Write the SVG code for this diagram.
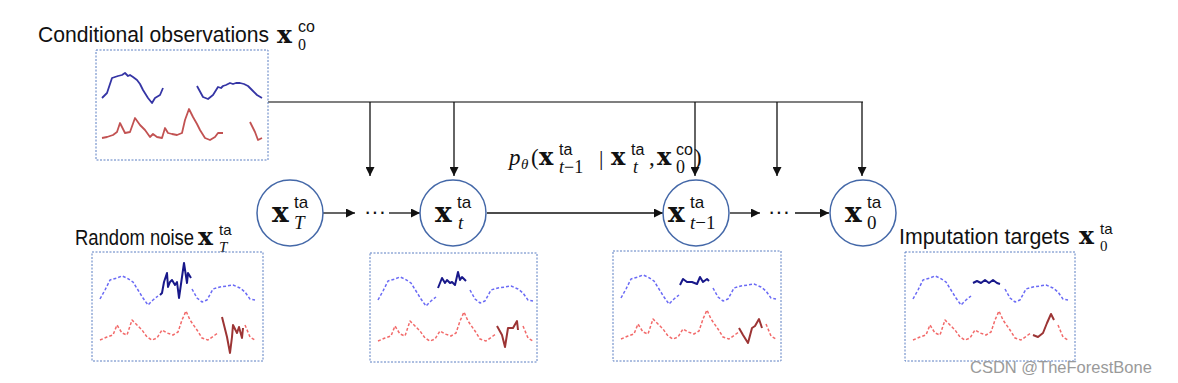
<svg xmlns="http://www.w3.org/2000/svg" xmlns:xlink="http://www.w3.org/1999/xlink" width="1178" height="383" viewBox="0 0 1178 383">
<style>
.lbl{font-family:"Liberation Sans",Arial,sans-serif;font-size:22px;fill:#111}
.mx{font-family:"DejaVu Serif","Liberation Serif",serif;font-weight:bold;fill:#111}
.ms{font-family:"Liberation Serif","Times New Roman",serif;fill:#111}
.ss{font-family:"Liberation Sans",Arial,sans-serif;fill:#111}
.it{font-style:italic}
.box{fill:#fff;stroke:#5b7ec2;stroke-width:1;stroke-dasharray:2,1.5}
.node{fill:#fff;stroke:#4468a8;stroke-width:1.5}
.conn{fill:none;stroke:#111;stroke-width:1.3}
.bus{fill:none;stroke:#555;stroke-width:1.3}
.sb{fill:none;stroke:#3535a5;stroke-width:1.8;stroke-linejoin:round}
.sr{fill:none;stroke:#c25252;stroke-width:1.8;stroke-linejoin:round}
.db{fill:none;stroke:#6b6bf5;stroke-width:1.5;stroke-dasharray:3,2;stroke-linejoin:round}
.dr{fill:none;stroke:#f26a6a;stroke-width:1.5;stroke-dasharray:3,2;stroke-linejoin:round}
.nb{fill:none;stroke:#18188a;stroke-width:2;stroke-linejoin:round}
.nr{fill:none;stroke:#9c3434;stroke-width:2;stroke-linejoin:round}
.wm{font-family:"Liberation Sans",Arial,sans-serif;font-size:16.5px;fill:#9a9a9a}
</style>
<defs>
<marker id="ah" viewBox="0 0 10 10" refX="10" refY="5" markerWidth="9" markerHeight="9" markerUnits="userSpaceOnUse" orient="auto">
<path d="M0,0 L10,5 L0,10 z" fill="#111"/>
</marker>
<path id="blueL" class="db" d="M8,47 L13,38 L18,28 L25,26 L30,24 L35,26 L41,30 L46,38 L51,46 L56,53 L61,48 L66,44"/>
<path id="blueR" class="db" d="M100,37 L105,46 L110,50 L115,48 L121,37 L128,35 L135,34 L141,33 L148,36 L153,40 L158,47 L163,48"/>
<path id="redL" class="dr" d="M8,88 L15,85 L21,83 L25,73 L30,81 L35,83 L40,68 L45,73 L50,78 L55,85 L60,88 L65,86 L70,78 L75,81 L81,83 L86,80 L90,68 L94,59 L98,68 L105,78 L110,86 L116,88 L123,83 L126,81"/>
<path id="redR" class="dr" d="M153,73 L158,85 L163,88"/>
</defs>

<g id="connectors">
<path class="bus" d="M268,102 H863"/>
<path class="conn" d="M370,102 V176" marker-end="url(#ah)"/>
<path class="conn" d="M454,102 V176" marker-end="url(#ah)"/>
<path class="conn" d="M695,102 V176" marker-end="url(#ah)"/>
<path class="conn" d="M777,102 V176" marker-end="url(#ah)"/>
<path class="conn" d="M862,102 V176" marker-end="url(#ah)"/>
<path class="conn" d="M323,213 H355" marker-end="url(#ah)"/>
<text class="lbl" x="375" y="219" text-anchor="middle">···</text>
<path class="conn" d="M389,213 H420" marker-end="url(#ah)"/>
<path class="conn" d="M487,213 H663" marker-end="url(#ah)"/>
<path class="conn" d="M730,213 H760" marker-end="url(#ah)"/>
<text class="lbl" x="779" y="219" text-anchor="middle">···</text>
<path class="conn" d="M795,213 H829" marker-end="url(#ah)"/>
<g id="label-p">
<text class="ms it" font-size="23" x="509" y="165">p</text>
<text class="ms it" font-size="15" x="521" y="169">θ</text>
<text class="ms" font-size="23" x="531" y="165">(</text>
<text class="mx" font-size="24" x="539" y="165">x</text>
<text class="ss" font-size="16" x="559" y="155">ta</text>
<text class="ms" font-size="18" x="559" y="173"><tspan class="it">t</tspan>−1</text>
<text class="ms" font-size="22" x="599" y="165">|</text>
<text class="mx" font-size="24" x="611" y="165">x</text>
<text class="ss" font-size="16" x="631" y="155">ta</text>
<text class="ms it" font-size="18" x="633" y="173">t</text>
<text class="ms" font-size="23" x="649" y="165">,</text>
<text class="mx" font-size="24" x="657" y="165">x</text>
<text class="ss" font-size="16" x="676" y="155">co</text>
<text class="ms" font-size="18" x="676" y="173">0</text>
<text class="ms" font-size="23" x="694" y="165">)</text>
</g>
</g>

<g id="cond-obs">
<text class="lbl" transform="translate(38,42) scale(0.96,1)" font-size="21.5">Conditional observations</text>
<text class="mx" font-size="25" x="277" y="43">x</text>
<text class="ss" font-size="16" x="298" y="32">co</text>
<text class="ms" font-size="16" x="298" y="50">0</text>
<rect class="box" x="96" y="50" width="172" height="110"/>
<path class="sb" d="M102,98 L107,93 L112,78 L115,77 L118,76 L122,75 L125,73 L128,76 L130,75 L133,77 L137,80 L140,84 L143,90 L148,98 L152,103 L155,98 L160,95 L163,88"/>
<path class="sb" d="M197,86 L203,97 L208,99 L213,95 L218,87 L221,88 L223,86 L226,85 L230,83 L233,84 L236,83 L240,83 L244,84 L248,86 L252,90 L257,95 L262,98"/>
<path class="sr" d="M102,138 L107,137 L113,135 L117,132 L120,123 L125,133 L130,132 L135,118 L140,125 L145,130 L150,137 L153,134 L157,137 L162,138 L165,128 L168,133 L172,134 L177,135 L182,133 L185,120 L189,109 L193,117 L197,124 L200,130 L205,138 L210,140 L215,137 L218,133 L223,133"/>
<path class="sr" d="M250,122 L255,132 L258,140 L262,138"/>
</g>

<g id="node-xT">
<circle class="node" cx="290" cy="213" r="33"/>
<text class="mx" font-size="28" x="272" y="222">x</text>
<text class="ss" font-size="17" x="294" y="208">ta</text>
<text class="ms it" font-size="19" x="294" y="229">T</text>
</g>
<g id="node-xt">
<circle class="node" cx="453" cy="213" r="33"/>
<text class="mx" font-size="28" x="435" y="222">x</text>
<text class="ss" font-size="17" x="457" y="208">ta</text>
<text class="ms it" font-size="19" x="458" y="229">t</text>
</g>
<g id="node-xt1">
<circle class="node" cx="696" cy="213" r="33"/>
<text class="mx" font-size="28" x="668" y="222">x</text>
<text class="ss" font-size="17" x="690" y="208">ta</text>
<text class="ms" font-size="19" x="690" y="229"><tspan class="it">t</tspan>−1</text>
</g>
<g id="node-x0">
<circle class="node" cx="863" cy="213" r="33"/>
<text class="mx" font-size="28" x="845" y="222">x</text>
<text class="ss" font-size="17" x="867" y="208">ta</text>
<text class="ms" font-size="19" x="867" y="229">0</text>
</g>

<g id="random-noise">
<text class="lbl" transform="translate(75,245) scale(0.84,1)">Random noise</text>
<text class="mx" font-size="25" x="198" y="245">x</text>
<text class="ss" font-size="15" x="219" y="235">ta</text>
<text class="ms it" font-size="15" x="219" y="252">T</text>
<rect class="box" x="92" y="252" width="171" height="109"/>
<g transform="translate(92,252)">
<use xlink:href="#blueL"/><use xlink:href="#blueR"/><use xlink:href="#redL"/><use xlink:href="#redR"/>
<path class="nb" d="M68,43 L70,41 L72,30 L75,21 L76,35 L78,30 L80,28 L83,33 L85,30 L87,46 L90,25 L92,11 L95,31 L96,21 L99,26"/>
<path class="nr" d="M130,65 L135,85 L138,101 L140,85 L141,73 L145,81 L147,75 L150,86 L151,76"/>
</g>
</g>

<g id="sample-t">
<rect class="box" x="370" y="253" width="167" height="109"/>
<g transform="translate(370,253)">
<use xlink:href="#blueL"/><use xlink:href="#blueR"/><use xlink:href="#redL"/><use xlink:href="#redR"/>
<path class="nb" d="M68,35 L72,25 L75,30 L77,27 L80,30 L82,29 L85,32 L88,19 L90,27 L92,24 L96,28"/>
<path class="nr" d="M127,73 L132,82 L135,94 L138,75 L143,75 L147,68 L148,77"/>
</g>
</g>

<g id="sample-t1">
<rect class="box" x="613" y="251" width="168" height="110"/>
<g transform="translate(613,251)">
<use xlink:href="#blueL"/><use xlink:href="#blueR"/><use xlink:href="#redL"/><use xlink:href="#redR"/>
<path class="nb" d="M67,34 L70,28 L74,31 L79,31 L84,33 L87,26 L90,31 L94,28 L96,30"/>
<path class="nr" d="M126,77 L130,84 L135,92 L139,77 L142,75 L146,68 L149,77"/>
</g>
</g>

<g id="imputation-targets">
<text class="lbl" transform="translate(899,244) scale(0.97,1)">Imputation targets</text>
<text class="mx" font-size="25" x="1079" y="244">x</text>
<text class="ss" font-size="15" x="1100" y="234">ta</text>
<text class="ms" font-size="15" x="1100" y="251">0</text>
<rect class="box" x="905" y="252" width="170" height="109"/>
<g transform="translate(905,252)">
<use xlink:href="#blueL"/><use xlink:href="#blueR"/><use xlink:href="#redL"/><use xlink:href="#redR"/>
<path class="nb" d="M68,31 L72,29 L76,31 L80,28 L84,31 L88,28 L92,31 L95,32"/>
<path class="nr" d="M128,83 L133,85 L138,81 L142,71 L146,62 L149,68"/>
</g>
</g>

<text class="wm" x="970" y="373">CSDN @TheForestBone</text>
</svg>
